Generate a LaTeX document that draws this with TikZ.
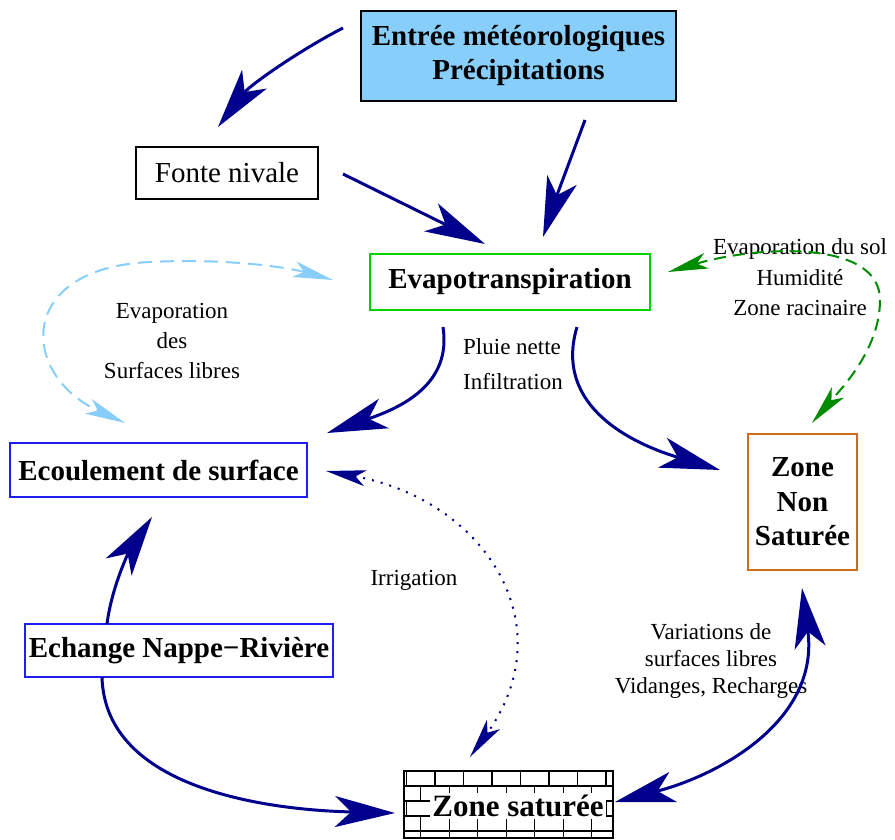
\documentclass[tikz,border=0pt]{standalone}
\usepackage{fontspec}
\setmainfont{Liberation Serif}
\usetikzlibrary{arrows.meta}
\definecolor{navy}{RGB}{0,0,140}
\definecolor{skyb}{RGB}{135,206,250}
\definecolor{boxgreen}{RGB}{0,210,0}
\definecolor{boxblue}{RGB}{30,30,240}
\definecolor{boxorange}{RGB}{200,110,30}
\definecolor{dgreen}{RGB}{0,140,0}
\definecolor{lblue}{RGB}{135,206,250}
\tikzset{
  bigtip/.tip={Stealth[length=60pt,width=31pt,inset=16pt]},
  smalltip/.tip={Stealth[length=40pt,width=16pt,inset=10pt]},
  flow/.style={draw=navy,line width=3pt},
  dotflow/.style={draw=navy,line width=2pt,dash pattern=on 2pt off 7pt},
  gflow/.style={draw=dgreen,line width=2pt,dash pattern=on 12pt off 7pt},
  bflow/.style={draw=lblue,line width=2pt,dash pattern=on 14pt off 8pt},
  box/.style={line width=1.2pt,inner sep=0pt,align=center},
  bigbold/.style={font=\fontsize{29}{34}\selectfont\bfseries},
  bigreg/.style={font=\fontsize{29}{34}\selectfont},
  lbl/.style={font=\fontsize{23}{30}\selectfont,inner sep=0pt}
}
\begin{document}
\begin{tikzpicture}[x=1pt,y=-1pt]
\useasboundingbox (0,0) rectangle (895,840);

% boxes
\node[box,bigbold,draw=black,fill=skyb,minimum width=315,minimum height=90] (meteo) at (518.5,56) {Entrée météorologiques\\Précipitations};
\node[box,bigreg,draw=black,minimum width=182,minimum height=52] (fonte) at (227,173) {Fonte nivale};
\node[box,bigbold,draw=boxgreen,minimum width=280,minimum height=56] (evapo) at (510,282) {Evapotranspiration};
\node[box,bigbold,draw=boxblue,minimum width=297,minimum height=54] (ecoul) at (158.5,470) {Ecoulement de surface};
\node[box,font=\fontsize{29}{34.5}\selectfont\bfseries,draw=boxorange,minimum width=109,minimum height=136] (zns) at (802.5,502) {Zone\\Non\\Saturée};
\node[box,bigbold,draw=boxblue,minimum width=308,minimum height=53] (echange) at (179,650.5) {Echange Nappe−Rivière};

% zone saturee with bricks
\node[box,draw=black,minimum width=209,minimum height=67] (zsat) at (508.5,804.5) {};
\begin{scope}[line width=1.2pt]
\clip (zsat.north west) rectangle (zsat.south east);
\foreach \yy in {786,801,816,831} \draw (404,\yy) -- (613,\yy);
\foreach \r/\off in {0/435,1/420.75,2/435,3/420.75,4/449.25}{
  \foreach \k in {-1,...,7}{
    \draw ({\off+28.5*\k},{771+15*\r}) -- ({\off+28.5*\k},{786+15*\r});
  }
}
\end{scope}
\node[font=\fontsize{31}{34}\selectfont\bfseries,fill=white,inner sep=2pt] (zsattxt) at (518,806) {Zone saturée};

% labels
\node[lbl,align=center] (evsurf) at (172,341) {Evaporation\\des\\Surfaces libres};
\node[lbl,align=left,anchor=west,font=\fontsize{23}{35}\selectfont] (pluie) at (463,364.5) {Pluie nette\\Infiltration};
\node[lbl,align=center,font=\fontsize{23}{30.5}\selectfont] (evsol) at (800,277.5) {Evaporation du sol\\Humidité\\Zone racinaire};
\node[lbl] (irrig) at (414,580) {Irrigation};
\node[lbl,align=center,font=\fontsize{23}{27}\selectfont] (varia) at (711,661) {Variations de\\surfaces libres\\Vidanges, Recharges};

% connector end points
\coordinate (a1s) at (343,28);   \coordinate (a1e) at (218,127);
\coordinate (a2s) at (585,120);  \coordinate (a2e) at (543,237);
\coordinate (a3s) at (343,174);  \coordinate (a3e) at (485,244);
\coordinate (a4s) at (443,327);  \coordinate (a4e) at (327,433);
\coordinate (a5s) at (577,327);  \coordinate (a5e) at (720,470);
\coordinate (a6s) at (107,624);  \coordinate (a6e) at (152,517);
\coordinate (a7s) at (102,677);  \coordinate (a7e) at (395,813);
\coordinate (a8s) at (615,802);  \coordinate (a8e) at (802,588);
\coordinate (a9s) at (326,471);  \coordinate (a9e) at (470,757);
\coordinate (gs) at (668,272);   \coordinate (ge) at (812,423);
\coordinate (bs) at (333,280);   \coordinate (be) at (125,423);

% connectors
\draw[flow,-{bigtip}] (a1s) .. controls (300,50) and (250,85) .. (a1e);
\draw[flow,-{bigtip}] (a2s) .. controls (572,155) and (557,195) .. (a2e);
\draw[flow,-{bigtip}] (a3s) -- (a3e);
\draw[flow,-{bigtip}] (a4s) .. controls (452,385) and (400,408) .. (a4e);
\draw[flow,-{bigtip}] (a5s) .. controls (555,400) and (620,440) .. (a5e);
\draw[flow,-{bigtip}] (a6s) .. controls (112,585) and (130,550) .. (a6e);
\draw[flow,-{bigtip}] (a7s) .. controls (105,790) and (270,810) .. (a7e);
\draw[flow,{bigtip}-{bigtip}] (a8s) .. controls (720,775) and (820,720) .. (a8e);
\draw[dotflow,{smalltip}-{smalltip}] (a9s) .. controls (485,500) and (565,625) .. (a9e);
\draw[gflow,{smalltip}-{smalltip}] (gs) .. controls (760,245) and (880,240) .. (880,300) .. controls (880,350) and (840,390) .. (ge);
\draw[bflow,{smalltip}-{smalltip}] (bs) .. controls (290,268) and (230,258) .. (150,262) .. controls (15,268) and (20,375) .. (be);
\end{tikzpicture}
\end{document}
